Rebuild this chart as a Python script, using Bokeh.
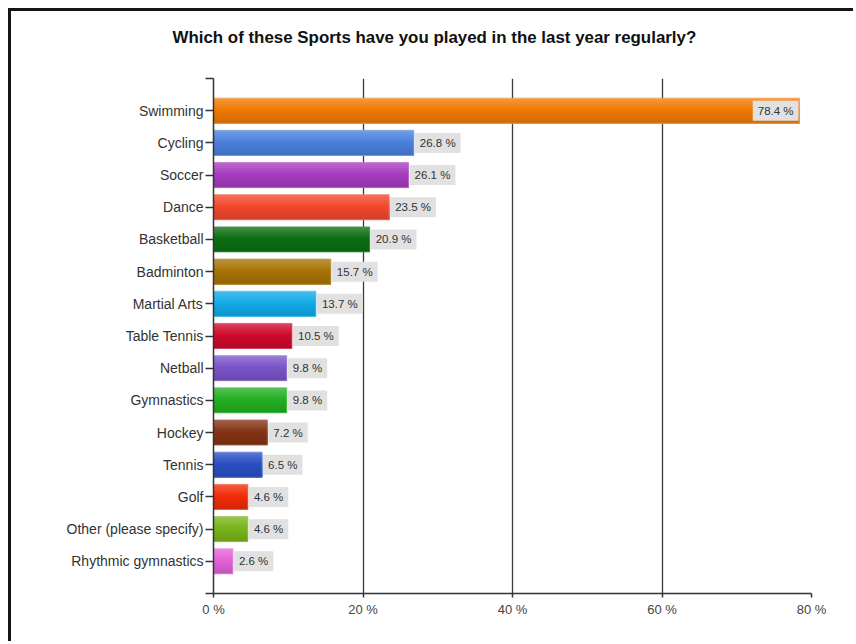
from bokeh.plotting import figure
from bokeh.models import ColumnDataSource, FixedTicker, Range1d, Title
from bokeh.core.properties import value
from bokeh.embed import file_html
from bokeh.resources import INLINE

title_text = "Which of these Sports have you played in the last year regularly?"
categories = ["Swimming", "Cycling", "Soccer", "Dance", "Basketball", "Badminton",
              "Martial Arts", "Table Tennis", "Netball", "Gymnastics", "Hockey",
              "Tennis", "Golf", "Other (please specify)", "Rhythmic gymnastics"]
values = [78.4, 26.8, 26.1, 23.5, 20.9, 15.7, 13.7, 10.5, 9.8, 9.8, 7.2, 6.5, 4.6, 4.6, 2.6]
colors = ["#f27a02", "#4a80dc", "#a83cbf", "#f2482e", "#0b6e12", "#a87406",
          "#12aae8", "#cf0a2c", "#7b55c9", "#22b022", "#853314", "#2a4fc4",
          "#f22c08", "#7ab51c", "#e262d9"]
x_ticks = [0, 20, 40, 60, 80]
x_tick_labels = ["0 %", "20 %", "40 %", "60 %", "80 %"]

n = len(categories)
ypos = [n - i for i in range(n)]
x_max = x_ticks[-1]


def blend(hexc, other, t):
    c = [int(hexc[i:i + 2], 16) for i in (1, 3, 5)]
    o = [int(other[i:i + 2], 16) for i in (1, 3, 5)]
    m = [round(a + (b - a) * t) for a, b in zip(c, o)]
    return "#%02x%02x%02x" % tuple(m)


W, H = 845, 633
BL, BB, BT = 202, 51, 67
p = figure(width=W, height=H, output_backend="svg", toolbar_location=None,
           x_range=Range1d(0, x_max), y_range=Range1d(0, n + 1),
           min_border_left=BL, min_border_right=45, min_border_top=BT,
           min_border_bottom=BB)
p.styles = {"margin-left": "8px", "margin-top": "8px",
            "border-left": "3px solid #151515", "border-top": "3px solid #151515"}
p.outline_line_color = None
p.background_fill_color = "white"
p.border_fill_color = "white"

# spacer panel (nearest to the frame) pushes the title up
p.add_layout(Title(text=" ", standoff=28, text_font_size="1px"), "above")
p.add_layout(Title(text=title_text, align="left", offset=-41, standoff=2,
                   text_font="Liberation Sans", text_font_style="bold",
                   text_font_size="16.9px", text_color="#111111"), "above")

# grid
p.ygrid.grid_line_color = None
p.xgrid.ticker = FixedTicker(ticks=x_ticks[1:])
p.xgrid.grid_line_color = "#3a3a3a"
p.xgrid.grid_line_width = 1.3

# bars with a simulated vertical gradient (each layer covers down to the bar bottom)
bar_h = 0.78
nstrip = 14
sh = bar_h / nstrip
for k in range(nstrip):
    t = k / (nstrip - 1)
    cols = []
    for c in colors:
        if t < 0.45:
            cols.append(blend(c, "#ffffff", 0.22 * (0.45 - t) / 0.45))
        else:
            cols.append(blend(c, "#000000", 0.13 * (t - 0.45) / 0.55))
    hk = bar_h - k * sh
    src = ColumnDataSource(dict(y=[yv - bar_h / 2 + hk / 2 for yv in ypos],
                                right=values, color=cols))
    p.hbar(y="y", right="right", left=0, height=hk, source=src,
           fill_color="color", line_color=None)
src_edge = ColumnDataSource(dict(y=ypos, right=values,
                                 color=[blend(c, "#ffffff", 0.3) for c in colors]))
p.hbar(y="y", right="right", left=0, height=bar_h, source=src_edge,
       fill_color=None, line_color="color", line_width=1, line_alpha=0.8)

# value labels
texts = [f"{v} %" for v in values]
inside = [v > x_max * 0.92 for v in values]
src_out = ColumnDataSource(dict(
    x=[v for v, ins in zip(values, inside) if not ins],
    y=[yv for yv, ins in zip(ypos, inside) if not ins],
    text=[t for t, ins in zip(texts, inside) if not ins]))
src_in = ColumnDataSource(dict(
    x=[v for v, ins in zip(values, inside) if ins],
    y=[yv for yv, ins in zip(ypos, inside) if ins],
    text=[t for t, ins in zip(texts, inside) if ins]))
common = dict(text_baseline="middle", text_font=value("Liberation Sans"),
              text_font_size="11.5px", text_color="#333333",
              background_fill_color="#e1e1e1", padding=(5, 4))
p.text(x="x", y="y", text="text", source=src_out, text_align="left",
       x_offset=1, **common)
p.text(x="x", y="y", text="text", source=src_in, text_align="right",
       x_offset=-1, **common)

# axes
p.xaxis.ticker = FixedTicker(ticks=x_ticks)
p.xaxis.major_label_overrides = {t: l for t, l in zip(x_ticks, x_tick_labels)}
p.xaxis.axis_line_color = "#333333"
p.xaxis.axis_line_width = 1.5
p.xaxis.major_tick_line_color = "#333333"
p.xaxis.major_tick_line_width = 1.5
p.xaxis.major_tick_out = 4
p.xaxis.major_tick_in = 0
p.xaxis.minor_tick_line_color = None
p.xaxis.major_label_text_font = "Liberation Sans"
p.xaxis.major_label_text_font_size = "13px"
p.xaxis.major_label_text_color = "#444444"
p.xaxis.major_label_standoff = 4

p.yaxis.ticker = FixedTicker(ticks=list(range(0, n + 2)))
ylabels = {0: "", n + 1: ""}
ylabels.update({yv: c for yv, c in zip(ypos, categories)})
p.yaxis.major_label_overrides = ylabels
p.yaxis.axis_line_color = "#333333"
p.yaxis.axis_line_width = 1.5
p.yaxis.major_tick_line_color = "#333333"
p.yaxis.major_tick_line_width = 1.5
p.yaxis.major_tick_out = 8
p.yaxis.major_tick_in = 0
p.yaxis.minor_tick_line_color = None
p.yaxis.major_label_text_font = "Liberation Sans"
p.yaxis.major_label_text_font_size = "14px"
p.yaxis.major_label_text_color = "#333333"
p.yaxis.major_label_standoff = 2

open("out.html", "w").write(file_html(p, INLINE))
